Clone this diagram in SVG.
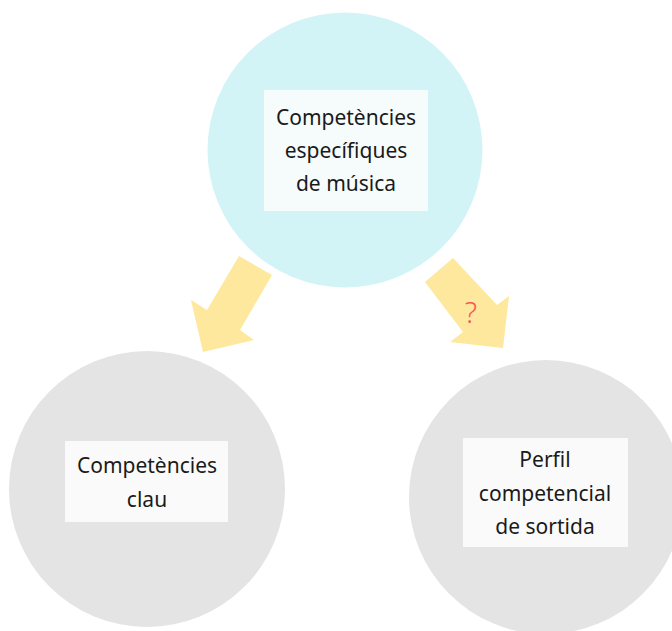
<svg xmlns="http://www.w3.org/2000/svg" width="672" height="631" viewBox="0 0 672 631">
  <style>
    .label { font-family: "Noto Sans", "Open Sans", sans-serif; font-size: 21px; fill: #1a1a1a; text-anchor: middle; }
    .box { fill: #fafafa; }
    .box-top { fill: #f6fcfc; }
    .arrow { fill: #fee89e; }
    .q { font-family: "Noto Sans", "Open Sans", sans-serif; font-size: 29px; font-weight: 300; fill: #f25a5a; text-anchor: middle; }
  </style>
  <rect width="672" height="631" fill="#ffffff"/>

  <g id="music-competences">
    <circle cx="345" cy="150" r="137.5" fill="#d2f4f6"/>
    <rect class="box-top" x="264" y="90" width="164" height="121"/>
    <text class="label" x="346" y="125">Competències</text>
    <text class="label" x="346" y="158">específiques</text>
    <text class="label" x="346" y="191">de música</text>
  </g>

  <g id="key-competences">
    <circle cx="147" cy="489" r="138" fill="#e4e4e4"/>
    <rect class="box" x="65" y="441" width="163" height="81"/>
    <text class="label" x="147" y="473">Competències</text>
    <text class="label" x="147" y="507">clau</text>
  </g>

  <g id="exit-profile">
    <circle cx="546" cy="497" r="137" fill="#e4e4e4"/>
    <rect class="box" x="463" y="438" width="165" height="109"/>
    <text class="label" x="545" y="467">Perfil</text>
    <text class="label" x="545" y="501">competencial</text>
    <text class="label" x="545" y="534">de sortida</text>
  </g>

  <g id="connectors">
    <polygon class="arrow" points="239,256 272,275 240,330 254,340 203,352 191,300 207,310"/>
    <polygon class="arrow" points="453,258 497,305 509,296 503,348 450,342 463,332 425,282"/>
    <text class="q" x="471" y="323">?</text>
  </g>
</svg>
